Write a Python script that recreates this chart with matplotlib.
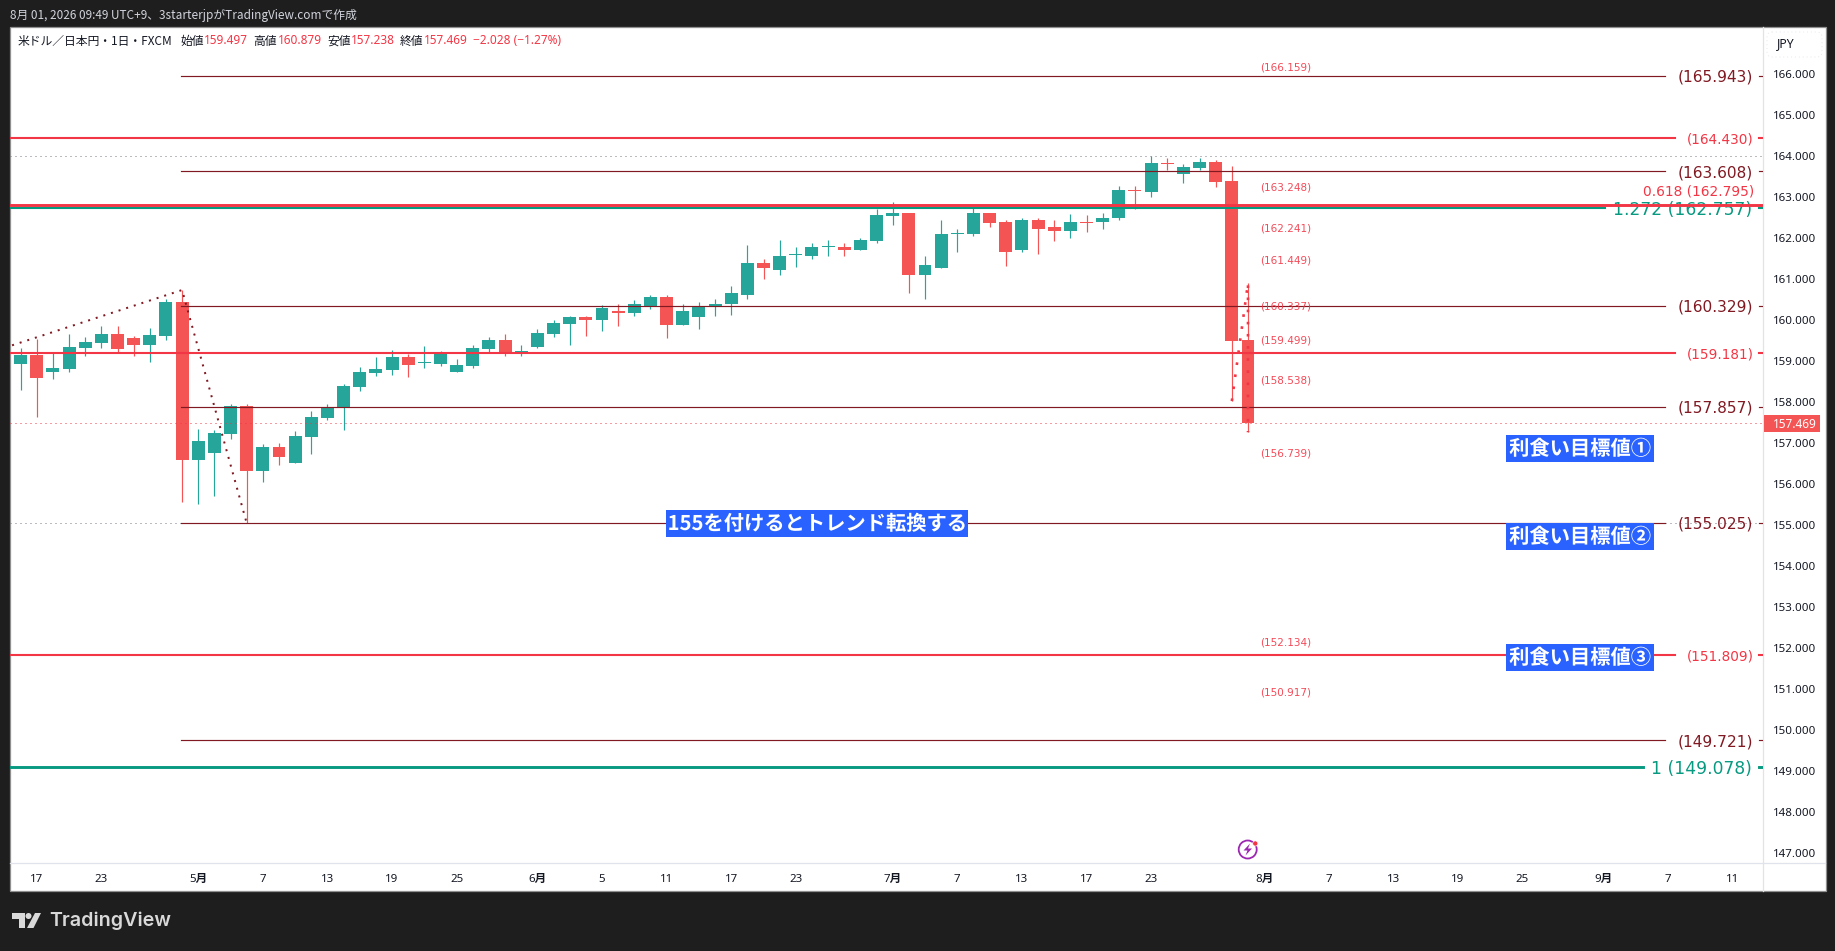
import numpy as np
import matplotlib
matplotlib.use('Agg')
import matplotlib.pyplot as plt
import matplotlib.patheffects as pe
from matplotlib.patches import Rectangle, Circle, Polygon, FancyBboxPatch
from matplotlib.transforms import blended_transform_factory, ScaledTranslation

plt.rcParams['font.family'] = ['Noto Sans', 'Noto Sans CJK JP', 'DejaVu Sans']

# USD/JPY daily candles
opens = [158.91, 159.13, 158.71, 158.79, 159.30, 159.42, 159.64, 159.54, 159.37, 159.59,
         160.42, 156.56, 156.74, 157.20, 157.88, 156.30, 156.88, 156.49, 157.13, 157.59,
         157.85, 158.35, 158.69, 158.76, 159.08, 158.92, 158.91, 158.71, 158.86, 159.27,
         159.49, 159.20, 159.32, 159.64, 159.88, 160.05, 159.98, 160.18, 160.16, 160.33,
         160.55, 159.85, 160.04, 160.32, 160.36, 160.60, 161.38, 161.21, 161.56, 161.55,
         161.76, 161.77, 161.68, 161.90, 162.51, 162.58, 161.07, 161.24, 162.08, 162.07,
         162.58, 162.36, 161.68, 162.43, 162.24, 162.16, 162.38, 162.38, 162.46, 163.14,
         163.11, 163.81, 163.55, 163.69, 163.84, 163.38, 159.497]
highs = [159.29, 159.51, 159.17, 159.64, 159.57, 159.84, 159.84, 159.59, 159.79, 160.49,
         160.71, 157.32, 157.30, 157.93, 157.93, 156.95, 156.98, 157.27, 157.76, 157.93,
         158.42, 158.83, 159.08, 159.25, 159.15, 159.35, 159.22, 159.03, 159.37, 159.57,
         159.64, 159.37, 159.76, 159.98, 160.08, 160.08, 160.35, 160.37, 160.46, 160.58,
         160.60, 160.38, 160.41, 160.48, 160.80, 161.82, 161.46, 161.92, 161.75, 161.85,
         161.94, 161.85, 161.99, 162.68, 162.85, 162.60, 161.53, 162.43, 162.19, 162.73,
         162.60, 162.43, 162.48, 162.48, 162.43, 162.56, 162.53, 162.60, 163.24, 163.24,
         163.99, 163.94, 163.79, 163.94, 163.89, 163.74, 160.879]
lows = [158.27, 157.60, 158.54, 158.71, 159.11, 159.30, 159.18, 159.11, 158.96, 159.49,
        155.54, 155.49, 155.69, 157.08, 155.02, 156.03, 156.44, 156.49, 156.71, 157.54,
        157.30, 158.25, 158.61, 158.64, 158.59, 158.81, 158.86, 158.71, 158.81, 159.20,
        159.10, 159.10, 159.30, 159.57, 159.37, 159.59, 159.71, 159.84, 160.07, 160.24,
        159.55, 159.85, 159.75, 160.07, 160.11, 160.48, 160.99, 161.07, 161.26, 161.46,
        161.55, 161.53, 161.68, 161.85, 162.29, 160.63, 160.48, 161.24, 161.65, 162.02,
        162.24, 161.29, 161.63, 161.60, 161.90, 161.99, 162.12, 162.21, 162.43, 162.68,
        162.98, 163.64, 163.33, 163.64, 163.23, 158.00, 157.238]
closes = [159.13, 158.57, 158.81, 159.32, 159.44, 159.64, 159.27, 159.37, 159.62, 160.42,
          156.56, 157.03, 157.22, 157.88, 156.30, 156.88, 156.64, 157.15, 157.61, 157.85,
          158.37, 158.71, 158.79, 159.08, 158.88, 158.93, 159.18, 158.88, 159.30, 159.49,
          159.18, 159.22, 159.66, 159.91, 160.05, 159.98, 160.27, 160.16, 160.36, 160.55,
          159.85, 160.21, 160.32, 160.38, 160.63, 161.38, 161.24, 161.55, 161.58, 161.77,
          161.77, 161.68, 161.92, 162.53, 162.58, 161.07, 161.33, 162.07, 162.09, 162.58,
          162.34, 161.65, 162.43, 162.21, 162.16, 162.38, 162.34, 162.48, 163.14, 163.13,
          163.81, 163.79, 163.72, 163.84, 163.35, 159.47, 157.469]

# horizontal levels
dark_levels = [165.943, 163.608, 160.329, 157.857, 155.025, 149.721]
red_levels = [164.430, 159.181, 151.809]
fib_red = 162.795
fib_green = [162.757, 149.078]
# where the two close fib lines actually sit in the picture
fib_red_drawn = 162.775
fib_green_drawn = 162.715
small_levels = [166.159, 163.248, 162.241, 161.449, 160.337, 159.499, 158.538, 156.739, 152.134, 150.917]
grey_dotted = [163.97, 155.02]
last_close = 157.469

# dotted zigzags
zig1_x = [-1, 10, 14]
zig1_y = [159.30, 160.71, 155.02]
zig2_x = [75, 76, 76]
zig2_y = [158.00, 160.88, 157.24]

# axes ticks
price_ticks = list(range(147, 167))
time_pos = [1, 5, 11, 15, 19, 23, 27, 32, 36, 40, 44, 48, 54, 58, 62, 66, 70, 77, 81, 85, 89, 93, 98, 102, 106]
time_labels = ['17', '23', '5月', '7', '13', '19', '25', '6月', '5', '11', '17', '23', '7月',
               '7', '13', '17', '23', '8月', '7', '13', '19', '25', '9月', '7', '11']

W, H = 1835, 951
DARK = '#1e1e1e'
GREEN = '#26a69a'
RED = '#f45454'
LINE_RED = '#f23645'
LINE_DARK = '#801922'
LINE_GREEN = '#089981'
BLUE = '#2962ff'
INK = '#131722'

fig = plt.figure(figsize=(W / 100, H / 100), dpi=100, facecolor=DARK)

# back layer, panel and dividers in pixels
bg = fig.add_axes([0, 0, 1, 1], zorder=0)
bg.set_xlim(0, W)
bg.set_ylim(H, 0)
bg.axis('off')
bg.add_patch(Rectangle((9.5, 27), 1816, 864, fc='white', ec='#8f8f8f', lw=0.9))
bg.plot([1763, 1763], [27, 891], color='#e0e3eb', lw=0.9)
bg.plot([10, 1825], [863, 863], color='#e0e3eb', lw=0.9)

# main chart
ax = fig.add_axes([10 / W, 1 - 863 / H, 1753 / W, 836 / H], zorder=1)
ax.patch.set_alpha(0)
for s in ax.spines.values():
    s.set_visible(False)

# overlay in pixels for labels
ov = fig.add_axes([0, 0, 1, 1], zorder=2)
ov.set_xlim(0, W)
ov.set_ylim(H, 0)
ov.axis('off')
ov.patch.set_alpha(0)

px = blended_transform_factory(ov.transData, ax.transData)

idx = np.arange(len(opens))
o = np.array(opens)
c = np.array(closes)
colors = [GREEN if a >= b else RED for a, b in zip(c, o)]
ax.vlines(idx, lows, highs, colors=colors, lw=0.85, zorder=2)
ax.bar(idx, np.maximum(np.abs(c - o), 0.03), bottom=np.minimum(o, c), width=0.8, color=colors, lw=0, zorder=3)

for p in grey_dotted:
    ax.plot([10, 1763], [p, p], transform=px, color='#787b86', lw=0.72, ls=(0, (1, 4)), zorder=4)
ax.plot([10, 1763], [last_close, last_close], transform=px, color=LINE_RED, lw=0.72, ls=(0, (1, 4)), zorder=4)

ax.plot(zig1_x, zig1_y, color=LINE_DARK, lw=1.44, ls=(0, (1, 3)), zorder=6)
ax.plot(zig2_x, zig2_y, color=LINE_RED, lw=1.9, ls=(0, (1, 3.6)), zorder=6)

# levels with label at the right
for p in dark_levels:
    ax.plot([181, 1665], [p, p], transform=px, color=LINE_DARK, lw=0.85, zorder=5)
    ax.plot([1759, 1763], [p, p], transform=px, color=LINE_DARK, lw=0.85, zorder=5)
    ax.text(1753, p, '(%.3f)' % p, transform=px, color=LINE_DARK, family='DejaVu Sans',
            fontsize=11.1, ha='right', va='center_baseline', zorder=5)
for p in red_levels:
    ax.plot([10, 1675], [p, p], transform=px, color=LINE_RED, lw=1.5, zorder=5)
    ax.plot([1759, 1763], [p, p], transform=px, color=LINE_RED, lw=1.5, zorder=5)
    ax.text(1754, p, '(%.3f)' % p, transform=px, color=LINE_RED, family='DejaVu Sans',
            fontsize=9.8, ha='right', va='center_baseline', zorder=5)

ax.plot([10, 1605], [fib_green_drawn, fib_green_drawn], transform=px, color=LINE_GREEN, lw=1.5, zorder=5)
ax.plot([1759, 1763], [fib_green_drawn, fib_green_drawn], transform=px, color=LINE_GREEN, lw=1.5, zorder=5)
ax.text(1752, fib_green_drawn, '1.272 (%.3f)' % fib_green[0], transform=px, color=LINE_GREEN,
        family='DejaVu Sans', fontsize=12.3, ha='right', va='center_baseline', zorder=5)
ax.plot([10, 1643], [fib_green[1], fib_green[1]], transform=px, color=LINE_GREEN, lw=2.1, zorder=5)
ax.plot([1759, 1763], [fib_green[1], fib_green[1]], transform=px, color=LINE_GREEN, lw=2.1, zorder=5)
ax.text(1752, fib_green[1], '1 (%.3f)' % fib_green[1], transform=px, color=LINE_GREEN,
        family='DejaVu Sans', fontsize=12.3, ha='right', va='center_baseline', zorder=5)
ax.plot([10, 1763], [fib_red_drawn, fib_red_drawn], transform=px, color=LINE_RED, lw=2.1, zorder=7)
ov.text(1754, 190, '0.618 (%.3f)' % fib_red, color=LINE_RED, family='DejaVu Sans',
        fontsize=9.9, ha='right', va='center_baseline')

for p in small_levels:
    ax.text(1260, p, '(%.3f)' % p, transform=px, color=LINE_RED, family='DejaVu Sans',
            fontsize=7.5, ha='left', va='center_baseline', zorder=8, alpha=0.9)

ax.set_xlim((10 - 20.6) / 16.15, (1763 - 20.6) / 16.15)
ax.set_ylim(166 - (863 - 73.3) / 40.97, 166 - (27 - 73.3) / 40.97)

ax.yaxis.tick_right()
ax.set_yticks(price_ticks)
ax.set_yticklabels(['%d.000' % t for t in price_ticks])
ax.tick_params(axis='y', length=0, pad=7, labelsize=8.3, labelcolor=INK)
nudge = ScaledTranslation(0, -1 / 100, fig.dpi_scale_trans)
for t, tick in zip(price_ticks, ax.yaxis.get_major_ticks()):
    tick.label2.set_transform(tick.label2.get_transform() + nudge)
    if t % 5 == 0:
        tick.label2.set_fontweight('bold')
ax.set_xticks(time_pos)
ax.set_xticklabels(time_labels)
ax.tick_params(axis='x', length=0, pad=8, labelsize=8.3, labelcolor=INK)
for lab in ax.get_xticklabels():
    if '月' in lab.get_text():
        lab.set_fontweight('bold')

# blue text boxes
def blue_box(x0, x1, y0, y1, text):
    ov.add_patch(Rectangle((x0, y0), x1 - x0, y1 - y0, fc=BLUE, ec='none', zorder=9))
    ov.text((x0 + x1) / 2, (y0 + y1) / 2, text, color='white', fontsize=14.6, fontweight='bold',
            family=['Noto Sans CJK JP', 'DejaVu Sans'], ha='center', va='center', zorder=10,
            path_effects=[pe.Normal()])

blue_box(666, 968, 510, 537, '155を付けるとトレンド転換する')
blue_box(1506, 1654, 435, 462, '利食い目標値①')
blue_box(1506, 1654, 523, 550, '利食い目標値②')
blue_box(1506, 1654, 644, 671, '利食い目標値③')

# price tag and currency button
ov.add_patch(Rectangle((1764, 415), 56, 17, fc=RED, ec='none', zorder=9))
ov.text(1772.5, 423.5, '157.469', color='white', fontsize=8.5, ha='left', va='center_baseline', zorder=10)
ov.add_patch(FancyBboxPatch((1767, 32), 55, 25, boxstyle='round,pad=0,rounding_size=5',
                            fc='none', ec='#e6e8ec', lw=0.7, ls=(0, (1, 3))))
ov.text(1786, 44, 'JPY', color=INK, fontsize=8.8, ha='center', va='center')

# earnings/news icon
ov.add_patch(Circle((1247.7, 849.5), 9, fc='white', ec='#9c27b0', lw=1.3, zorder=9))
ov.add_patch(Polygon([[1250, 843.5], [1243.5, 850.5], [1247.5, 850.5], [1245.5, 855.5],
                      [1252, 848.5], [1248, 848.5]], fc='#9c27b0', ec='none', zorder=10))
ov.add_patch(Circle((1255.3, 843.5), 2.6, fc=LINE_RED, ec='white', lw=0.5, zorder=11))

# header
ov.text(10, 15, '8月 01, 2026 09:49 UTC+9、3starterjpがTradingView.comで作成', color='#d1d4dc',
        fontsize=8.5, ha='left', va='center', family=['Noto Sans CJK JP', 'DejaVu Sans'])

# legend line
ov.text(18, 41, '米ドル／日本円・1日・FXCM', color=INK, fontsize=8.5, ha='left', va='center',
        family=['Noto Sans CJK JP', 'DejaVu Sans'])
for x, s, col in [(180, '始値', INK), (204, '159.497', LINE_RED), (253.5, '高値', INK), (277.6, '160.879', LINE_RED),
                  (327, '安値', INK), (350.7, '157.238', LINE_RED), (400, '終値', INK), (424, '157.469', LINE_RED),
                  (473, '−2.028 (−1.27%)', LINE_RED)]:
    ov.text(x, 41, s, color=col, fontsize=8.5, ha='left', va='center')

# footer logo
logo = '#d9d9d9'
ov.add_patch(Polygon([[12, 913], [24.5, 913], [24.5, 928], [18.5, 928], [18.5, 919], [12, 919]], fc=logo, ec='none'))
ov.add_patch(Circle((28.5, 916), 3, fc=logo, ec='none'))
ov.add_patch(Polygon([[35, 913], [41, 913], [33.5, 928], [27, 928]], fc=logo, ec='none'))
ov.text(49, 921, 'TradingView', color=logo, fontsize=14.2, fontweight='semibold', family='Inter', ha='left', va='center')

fig.savefig('out.png', dpi=100, facecolor=DARK)
